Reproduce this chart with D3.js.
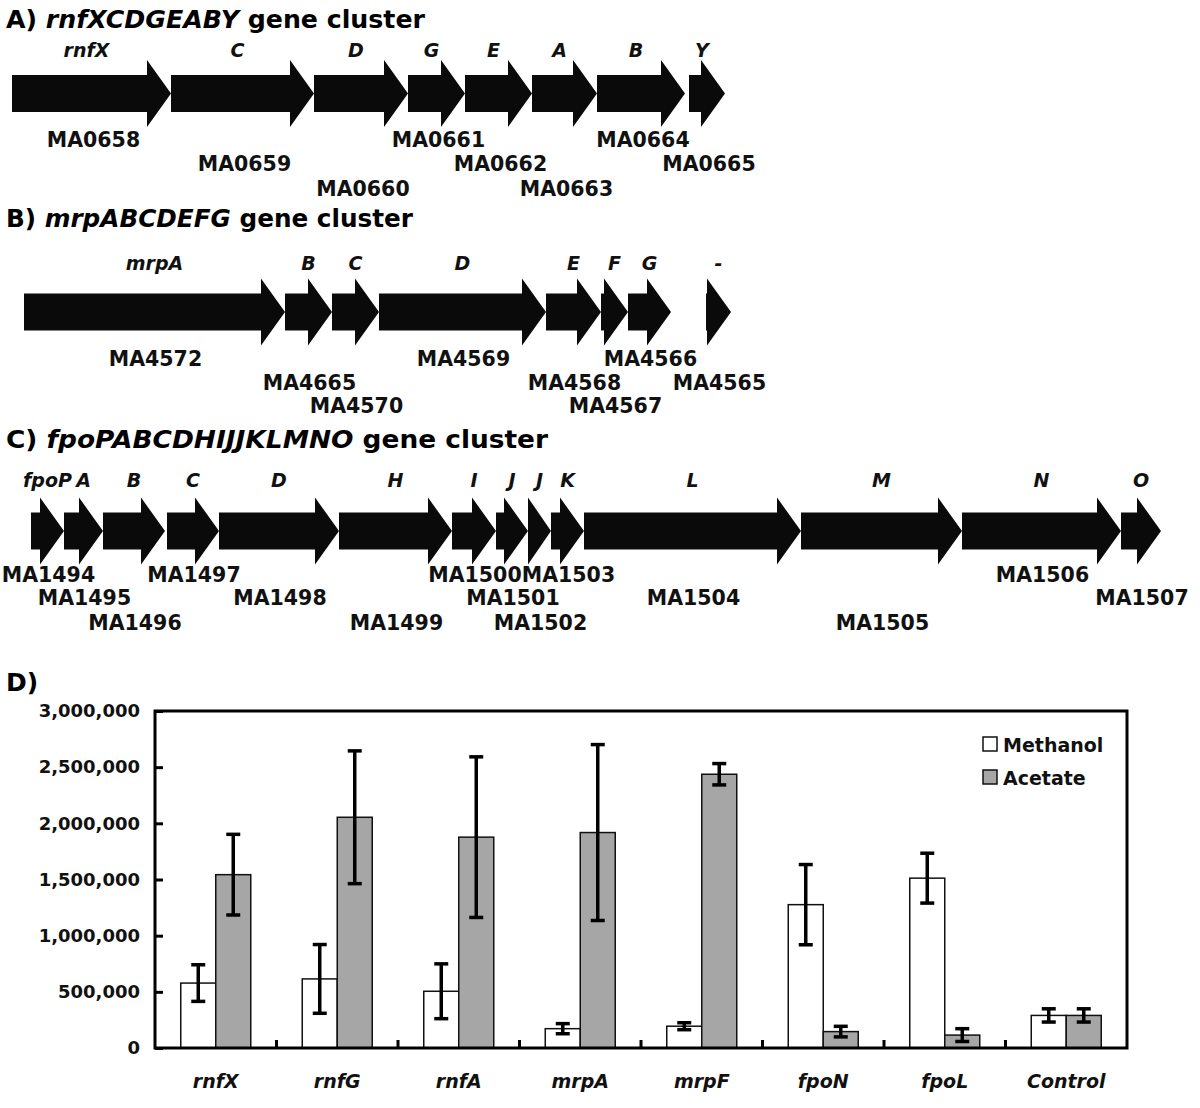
<!DOCTYPE html>
<html><head><meta charset="utf-8">
<script src="https://cdn.jsdelivr.net/npm/d3@7"></script>
<style>body{margin:0;background:#fff}</style>
</head><body>
<svg id="c" width="1200" height="1108"></svg>
<script>
// ---------- gene cluster data (approximate positions, arbitrary units) ----------
const rnfNames = ["rnfX","C","D","G","E","A","B","Y"];
const rnfIds   = ["MA0658","MA0659","MA0660","MA0661","MA0662","MA0663","MA0664","MA0665"];
const rnfStart = [12,171,314,408,465,532,597,689];
const rnfEnd   = [171,314,408,465,532,597,685,725];

const mrpNames = ["mrpA","B","C","D","E","F","G","-"];
const mrpIds   = ["MA4572","MA4665","MA4570","MA4569","MA4568","MA4567","MA4566","MA4565"];
const mrpStart = [24,285,332,379,546,601,628,706];
const mrpEnd   = [285,332,379,546,601,628,671,731];

const fpoNames = ["fpoP","A","B","C","D","H","I","J","J","K","L","M","N","O"];
const fpoIds   = ["MA1494","MA1495","MA1496","MA1497","MA1498","MA1499","MA1500","MA1501","MA1502","MA1503","MA1504","MA1505","MA1506","MA1507"];
const fpoStart = [31,64,103,167,219,339,452,496,528,551,584,801,962,1121];
const fpoEnd   = [64,103,165,219,339,452,496,528,551,584,801,962,1121,1161];

// ---------- bar chart data ----------
const categories   = ["rnfX","rnfG","rnfA","mrpA","mrpF","fpoN","fpoL","Control"];
const seriesNames  = ["Methanol","Acetate"];
const methanolMean = [578000,615000,505000,172000,194000,1276000,1512000,290000];
const methanolErr  = [163000,306000,244000,45000,31000,357000,222000,59000];
const acetateMean  = [1543000,2054000,1877000,1918000,2437000,146000,115000,290000];
const acetateErr   = [359000,591000,715000,783000,95000,47000,57000,59000];
const yTicks       = [0,500000,1000000,1500000,2000000,2500000,3000000];

const svg = d3.select("#c");
const TITLE_FONT = "'DejaVu Sans', sans-serif";
const LABEL_FONT = "'DejaVu Sans', sans-serif";

// ---------- gene panels ----------
const gx = d3.scaleLinear().domain([0,1200]).range([0,1200]);
const HEAD = 24, BODY_H = 37, HEAD_H = 67;

function panel(cfg){
  const g = svg.append("g");
  const t = g.append("text").attr("x",6).attr("y",cfg.titleY)
    .attr("font-family",TITLE_FONT).attr("font-weight","bold").attr("font-size",25)
    .attr("textLength",cfg.titleW).attr("lengthAdjust","spacingAndGlyphs");
  t.append("tspan").text(cfg.prefix+" ");
  t.append("tspan").attr("font-style","italic").text(cfg.italic);
  t.append("tspan").text(" gene cluster");

  const genes = cfg.names.map((n,i)=>({name:n,id:cfg.ids[i],s:cfg.start[i],e:cfg.end[i],i}));
  const cy = cfg.arrowY;
  g.selectAll("path.arrow").data(genes).join("path").attr("class","arrow")
    .attr("fill","#0a0a0a")
    .attr("d",d=>{
      const x0=gx(d.s), x1=gx(d.e), h=Math.min(HEAD,x1-x0), xb=x1-h;
      return `M${x0},${cy-BODY_H/2}L${xb},${cy-BODY_H/2}L${xb},${cy-HEAD_H/2}L${x1},${cy}L${xb},${cy+HEAD_H/2}L${xb},${cy+BODY_H/2}L${x0},${cy+BODY_H/2}Z`;
    });
  g.selectAll("text.gn").data(genes).join("text").attr("class","gn")
    .attr("x",d=>gx((d.s+d.e)/2)+cfg.letterDx).attr("y",cfg.letterY)
    .attr("text-anchor","middle").attr("font-family",LABEL_FONT)
    .attr("font-weight","bold").attr("font-style","italic").attr("font-size",19)
    .attr("fill","#111").text(d=>d.name);
  g.selectAll("text.id").data(genes).join("text").attr("class","id")
    .attr("x",d=>gx((d.s+d.e)/2)+cfg.idDx).attr("y",d=>cfg.rowY[d.i%3])
    .attr("text-anchor","middle").attr("font-family",TITLE_FONT)
    .attr("font-weight","bold").attr("font-size",20.5)
    .attr("fill","#111").text(d=>d.id);
}
panel({prefix:"A)",italic:"rnfXCDGEABY",titleY:28,titleW:419,letterY:57,arrowY:93.5,rowY:[147,171,196],letterDx:-5,idDx:2,
  names:rnfNames,ids:rnfIds,start:rnfStart,end:rnfEnd});
panel({prefix:"B)",italic:"mrpABCDEFG",titleY:227,titleW:407,letterY:270,arrowY:312,rowY:[366,390,413],letterDx:0,idDx:1,
  names:mrpNames,ids:mrpIds,start:mrpStart,end:mrpEnd});
panel({prefix:"C)",italic:"fpoPABCDHIJJKLMNO",titleY:448,titleW:542,letterY:487,arrowY:531,rowY:[582,605,630],letterDx:0,idDx:1,
  names:fpoNames,ids:fpoIds,start:fpoStart,end:fpoEnd});

// ---------- bar chart ----------
svg.append("text").attr("x",6).attr("y",691).attr("font-family",TITLE_FONT)
  .attr("font-weight","bold").attr("font-size",25).text("D)");

const L=155, R=1127, T=711, B=1048;
const x = d3.scaleBand().domain(categories).range([L,R]).padding(0);
const xs = d3.scaleBand().domain(seriesNames).range([0,x.bandwidth()]).paddingInner(0).paddingOuter(0.736);
const y = d3.scaleLinear().domain([0,3000000]).range([B,T]);

const yAxis = svg.append("g").attr("transform",`translate(${L},0)`)
  .call(d3.axisLeft(y).tickValues(yTicks).tickFormat(d3.format(","))
    .tickSizeInner(-8).tickSizeOuter(0).tickPadding(15));
yAxis.select(".domain").remove();
yAxis.selectAll("line").attr("stroke","#000").attr("stroke-width",3);
yAxis.selectAll("text").attr("font-family",LABEL_FONT).attr("font-weight","bold")
  .attr("font-size",18).attr("fill","#111");

const rows = categories.map((c,i)=>[
  {c,s:"Methanol",v:methanolMean[i],e:methanolErr[i]},
  {c,s:"Acetate",v:acetateMean[i],e:acetateErr[i]}]).flat();
const fill = d3.scaleOrdinal().domain(seriesNames).range(["#ffffff","#a6a6a6"]);

svg.append("g").selectAll("rect").data(rows).join("rect")
  .attr("x",d=>x(d.c)+xs(d.s)).attr("width",xs.bandwidth())
  .attr("y",d=>y(d.v)).attr("height",d=>y(0)-y(d.v))
  .attr("fill",d=>fill(d.s)).attr("stroke","#111").attr("stroke-width",1.5);

const eb = svg.append("g").attr("stroke","#000").attr("stroke-width",3.5);
const cx = d=>x(d.c)+xs(d.s)+xs.bandwidth()/2;
eb.selectAll("line.v").data(rows).join("line").attr("class","v")
  .attr("x1",cx).attr("x2",cx).attr("y1",d=>y(d.v+d.e)).attr("y2",d=>y(d.v-d.e));
eb.selectAll("line.t").data(rows).join("line").attr("class","t")
  .attr("x1",d=>cx(d)-7).attr("x2",d=>cx(d)+7).attr("y1",d=>y(d.v+d.e)).attr("y2",d=>y(d.v+d.e));
eb.selectAll("line.b").data(rows).join("line").attr("class","b")
  .attr("x1",d=>cx(d)-7).attr("x2",d=>cx(d)+7).attr("y1",d=>y(d.v-d.e)).attr("y2",d=>y(d.v-d.e));

// frame
svg.append("rect").attr("x",L).attr("y",T).attr("width",R-L).attr("height",B-T)
  .attr("fill","none").attr("stroke","#000").attr("stroke-width",3);

// x ticks between groups (inward)
svg.append("g").selectAll("line").data(categories.slice(1)).join("line")
  .attr("x1",d=>x(d)).attr("x2",d=>x(d)).attr("y1",B).attr("y2",B-8)
  .attr("stroke","#000").attr("stroke-width",3);

// x labels
svg.append("g").selectAll("text").data(categories).join("text")
  .attr("x",d=>x(d)+x.bandwidth()/2).attr("y",1088).attr("text-anchor","middle")
  .attr("font-family",LABEL_FONT).attr("font-weight","bold").attr("font-style","italic")
  .attr("font-size",19).attr("fill","#111").text(d=>d);

// legend
const lg = svg.append("g").selectAll("g").data(seriesNames).join("g")
  .attr("transform",(d,i)=>`translate(983,${737+i*33})`);
lg.append("rect").attr("width",14).attr("height",14).attr("fill",d=>fill(d))
  .attr("stroke","#111").attr("stroke-width",1.5);
lg.append("text").attr("x",20).attr("y",15).attr("font-family",LABEL_FONT)
  .attr("font-weight","bold").attr("font-size",19).attr("fill","#111").text(d=>d);
</script>
</body></html>
